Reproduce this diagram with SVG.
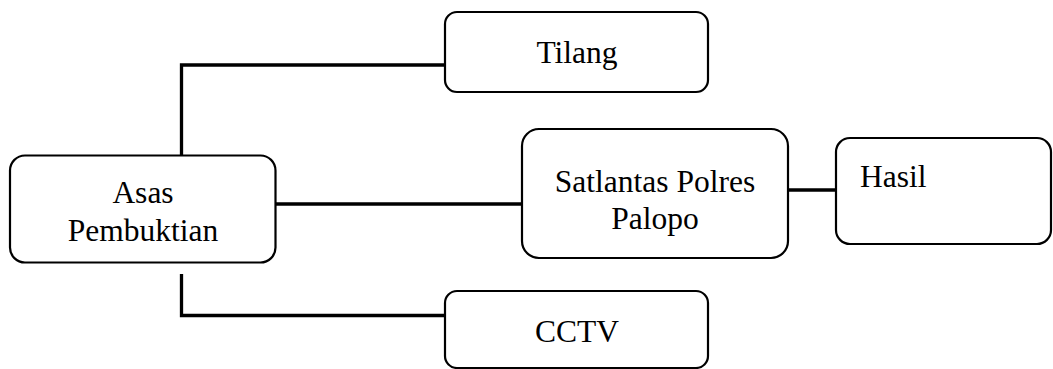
<svg xmlns="http://www.w3.org/2000/svg" width="1053" height="369" viewBox="0 0 1053 369">
<style>
.box{fill:#fff;stroke:#000;stroke-width:2.2}
.lbl{font-family:'Liberation Serif','Times New Roman','DejaVu Serif',serif;font-size:31.5px;fill:#000}
.c{text-anchor:middle}
.conn{fill:none;stroke:#000;stroke-width:3.3}
</style>
<rect width="1053" height="369" fill="#fff"/>
<g id="connectors">
<path class="conn" d="M181.5 156 V65 H445"/>
<path class="conn" d="M276 204 H522"/>
<path class="conn" d="M181.5 274 V315.5 H446"/>
<path class="conn" d="M789 190 H836"/>
</g>
<g id="asas">
<rect class="box" x="10" y="155.5" width="265.5" height="107" rx="15"/>
<text class="lbl c" x="143" y="203" font-family="Liberation Serif, serif">Asas</text>
<text class="lbl c" x="143" y="241" font-family="Liberation Serif, serif">Pembuktian</text>
</g>
<g id="tilang">
<rect class="box" x="445" y="12" width="263" height="80" rx="12"/>
<text class="lbl c" x="577" y="63" font-family="Liberation Serif, serif">Tilang</text>
</g>
<g id="satlantas">
<rect class="box" x="522" y="129" width="266" height="129" rx="17"/>
<text class="lbl c" x="655" y="192" font-family="Liberation Serif, serif">Satlantas Polres</text>
<text class="lbl c" x="655" y="229" font-family="Liberation Serif, serif">Palopo</text>
</g>
<g id="hasil">
<rect class="box" x="836" y="138" width="215" height="106" rx="14"/>
<text class="lbl" x="860" y="187" font-family="Liberation Serif, serif">Hasil</text>
</g>
<g id="cctv">
<rect class="box" x="445" y="291" width="263" height="77" rx="12"/>
<text class="lbl c" x="577" y="342" font-family="Liberation Serif, serif">CCTV</text>
</g>
</svg>
